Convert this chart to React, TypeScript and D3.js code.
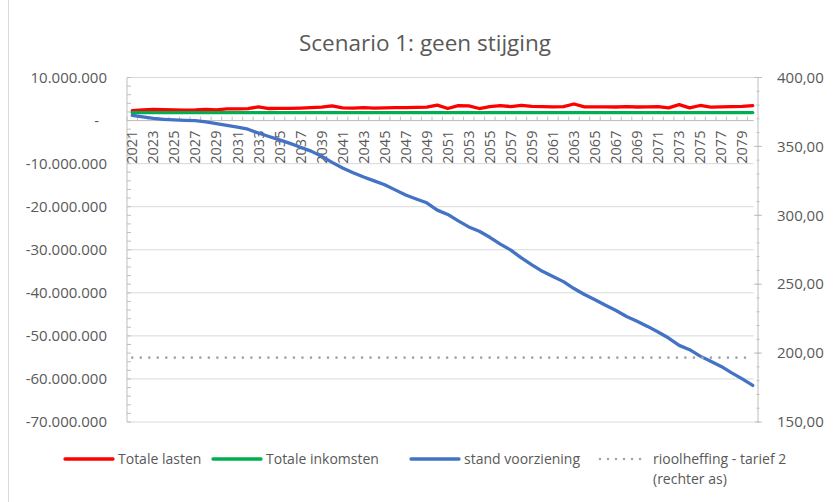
import React from 'react';
import * as d3 from 'd3';

// Categories (years)
const years: number[] = d3.range(2021, 2081);

// Series values (left axis in millions of euros)
const totaleLasten: number[] = [
  2.3, 2.5, 2.6, 2.55, 2.5, 2.4, 2.45, 2.6, 2.5, 2.7,
  2.7, 2.75, 3.2, 2.8, 2.85, 2.85, 2.9, 3.0, 3.1, 3.4,
  2.95, 2.9, 3.0, 2.9, 2.95, 3.0, 3.0, 3.05, 3.1, 3.6,
  2.8, 3.45, 3.4, 2.8, 3.25, 3.45, 3.25, 3.55, 3.3, 3.25,
  3.2, 3.25, 3.85, 3.2, 3.2, 3.2, 3.15, 3.25, 3.15, 3.2,
  3.25, 2.95, 3.7, 2.95, 3.5, 3.1, 3.2, 3.25, 3.3, 3.45,
];
const totaleInkomsten: number[] = [
  1.85, 1.85, 1.85, 1.85, 1.85, 1.85, 1.85, 1.85, 1.85, 1.85,
  1.85, 1.85, 1.85, 1.85, 1.85, 1.85, 1.85, 1.85, 1.85, 1.85,
  1.85, 1.85, 1.85, 1.85, 1.85, 1.85, 1.85, 1.85, 1.85, 1.85,
  1.85, 1.85, 1.85, 1.85, 1.85, 1.85, 1.85, 1.85, 1.85, 1.85,
  1.85, 1.85, 1.85, 1.85, 1.85, 1.85, 1.85, 1.85, 1.85, 1.85,
  1.85, 1.85, 1.85, 1.85, 1.85, 1.85, 1.85, 1.85, 1.85, 1.85,
];
const standVoorziening: number[] = [
  1.2, 0.85, 0.5, 0.3, 0.15, 0.05, 0.0, -0.3, -0.7, -1.1,
  -1.5, -2.0, -2.9, -3.7, -4.5, -5.3, -6.2, -7.1, -8.3, -9.7,
  -11.0, -12.1, -13.1, -14.0, -14.9, -16.1, -17.3, -18.2, -19.1, -20.8,
  -21.8, -23.3, -24.7, -25.7, -27.1, -28.7, -30.1, -31.9, -33.5, -35.0,
  -36.2, -37.4, -39.0, -40.4, -41.6, -42.9, -44.1, -45.5, -46.6, -47.8,
  -49.1, -50.5, -52.2, -53.2, -54.7, -55.9, -57.1, -58.6, -60.0, -61.5,
];
// Right axis
const rioolheffing: number[] = [
  196.7, 196.7, 196.7, 196.7, 196.7, 196.7, 196.7, 196.7, 196.7, 196.7,
  196.7, 196.7, 196.7, 196.7, 196.7, 196.7, 196.7, 196.7, 196.7, 196.7,
  196.7, 196.7, 196.7, 196.7, 196.7, 196.7, 196.7, 196.7, 196.7, 196.7,
  196.7, 196.7, 196.7, 196.7, 196.7, 196.7, 196.7, 196.7, 196.7, 196.7,
  196.7, 196.7, 196.7, 196.7, 196.7, 196.7, 196.7, 196.7, 196.7, 196.7,
  196.7, 196.7, 196.7, 196.7, 196.7, 196.7, 196.7, 196.7, 196.7, 196.7,
];

const leftTicks: number[] = [10, 0, -10, -20, -30, -40, -50, -60, -70];
const rightTicks: number[] = [400, 350, 300, 250, 200, 150];
const titleText = 'Scenario 1: geen stijging';
const legendLabels: string[] = ['Totale lasten', 'Totale inkomsten', 'stand voorziening', 'rioolheffing - tarief 2'];
const legendLabelLine2 = '(rechter as)';

const nl = d3.formatLocale({ decimal: ',', thousands: '.', grouping: [3], currency: ['', ''], minus: '-' });
const fmtLeft = nl.format(',.0f');
const fmtRight = nl.format(',.2f');

const FONT = "'Open Sans', sans-serif";
const TXT = '#595959';

export default function App() {
  const W = 834, H = 502;
  const plotL = 127, plotR = 758, plotT = 77.5, plotB = 422, gridR = 753.5;

  const x = d3.scaleBand<number>().domain(years).range([plotL, plotR]);
  const cx = (yr: number) => (x(yr) as number) + x.bandwidth() / 2;
  const yL = d3.scaleLinear().domain([-70, 10]).range([plotB, plotT]);
  const yR = d3.scaleLinear().domain([150, 400]).range([plotB, plotT]);

  const lineL = (vals: number[]) =>
    d3.line<number>().x((_, i) => cx(years[i])).y((d) => yL(d))(vals) as string;
  const lineR = (vals: number[]) =>
    d3.line<number>().x((_, i) => cx(years[i])).y((d) => yR(d))(vals) as string;

  const y0 = yL(0);
  const leftMinor = d3.range(-70, 10.001, 2);
  const rightMinor = d3.range(150, 400.001, 10);

  const legendY = 459;
  const legendItems = [
    { x1: 65, x2: 113, tx: 118, color: '#ff0000', dotted: false, label: legendLabels[0] },
    { x1: 213, x2: 261, tx: 266, color: '#00b050', dotted: false, label: legendLabels[1] },
    { x1: 411, x2: 459, tx: 464, color: '#4472c4', dotted: false, label: legendLabels[2] },
    { x1: 600, x2: 645, tx: 653, color: '#a5a5a5', dotted: true, label: legendLabels[3] },
  ];

  return (
    <svg width={W} height={H} style={{ position: 'absolute', left: 0, top: 0, background: '#fff' }}>
      <rect x={0} y={0} width={W} height={H} fill="#fff" />
      <line x1={8.5} x2={8.5} y1={0} y2={H} stroke="#d9d9d9" strokeWidth={1} />

      <text x={425} y={51} textAnchor="middle" fontFamily={FONT} fontSize={22.5} fill={TXT}>{titleText}</text>

      {/* gridlines */}
      {leftTicks.map((t) => (
        <line key={'g' + t} x1={plotL} x2={gridR} y1={yL(t)} y2={yL(t)} stroke="#d9d9d9" strokeWidth={1} />
      ))}

      {/* left axis */}
      <line x1={plotL} x2={plotL} y1={plotT} y2={plotB} stroke="#bfbfbf" strokeWidth={1} />
      {leftMinor.map((t) => (
        <line key={'lm' + t} x1={plotL} x2={plotL + 4} y1={yL(t)} y2={yL(t)} stroke="#bfbfbf" strokeWidth={1} />
      ))}
      {leftTicks.map((t) => (
        <text key={'lt' + t} x={t === 0 ? 99 : 107} y={yL(t)} dy="0.35em" textAnchor="end"
          fontFamily={FONT} fontSize={15} fill={TXT}>{t === 0 ? '-' : fmtLeft(t * 1e6)}</text>
      ))}

      {/* right axis */}
      <line x1={plotR} x2={plotR} y1={plotT} y2={plotB} stroke="#bfbfbf" strokeWidth={1} />
      {rightMinor.map((t) => (
        <line key={'rm' + t} x1={plotR - 1.5} x2={plotR + 1.5} y1={yR(t)} y2={yR(t)} stroke="#bfbfbf" strokeWidth={1} />
      ))}
      {rightTicks.map((t) => (
        <line key={'rM' + t} x1={plotR - 4} x2={plotR + 4} y1={yR(t)} y2={yR(t)} stroke="#bfbfbf" strokeWidth={1} />
      ))}
      {rightTicks.map((t) => (
        <text key={'rt' + t} x={777} y={yR(t)} dy="0.35em" textAnchor="start"
          fontFamily={FONT} fontSize={15} fill={TXT}>{fmtRight(t)}</text>
      ))}

      {/* category axis at zero */}
      <line x1={plotL} x2={gridR} y1={y0} y2={y0} stroke="#bfbfbf" strokeWidth={1} />
      {years.map((yr) => (
        <line key={'ct' + yr} x1={x(yr) as number} x2={x(yr) as number} y1={y0 - 4} y2={y0} stroke="#bfbfbf" strokeWidth={1} />
      ))}
      {years.filter((_, i) => i % 2 === 0).map((yr) => (
        <text key={'xl' + yr} transform={`translate(${cx(yr)},${y0 + 10}) rotate(-90)`} textAnchor="end" dy="0.35em"
          fontFamily={FONT} fontSize={14.5} fill={TXT}>{yr}</text>
      ))}

      {/* series */}
      <path d={lineL(totaleLasten)} fill="none" stroke="#ff0000" strokeWidth={3.3} strokeLinejoin="round" strokeLinecap="round" />
      <path d={lineL(totaleInkomsten)} fill="none" stroke="#00b050" strokeWidth={3.3} strokeLinejoin="round" strokeLinecap="round" />
      <path d={lineL(standVoorziening)} fill="none" stroke="#4472c4" strokeWidth={3.3} strokeLinejoin="round" strokeLinecap="round" />
      <path d={lineR(rioolheffing)} fill="none" stroke="#a5a5a5" strokeWidth={2.6} strokeDasharray="0.01 8.5" strokeLinecap="round" />

      {/* legend */}
      {legendItems.map((it) => (
        <g key={it.label}>
          <line x1={it.x1} x2={it.x2} y1={legendY} y2={legendY} stroke={it.color}
            strokeWidth={it.dotted ? 2.6 : 3.3} strokeLinecap="round"
            strokeDasharray={it.dotted ? '0.01 8' : undefined} />
          <text x={it.tx} y={legendY} dy="0.35em" fontFamily={FONT} fontSize={14} fill={TXT}>{it.label}</text>
        </g>
      ))}
      <text x={legendItems[3].tx} y={legendY + 20} dy="0.35em" fontFamily={FONT} fontSize={14} fill={TXT}>{legendLabelLine2}</text>
    </svg>
  );
}
